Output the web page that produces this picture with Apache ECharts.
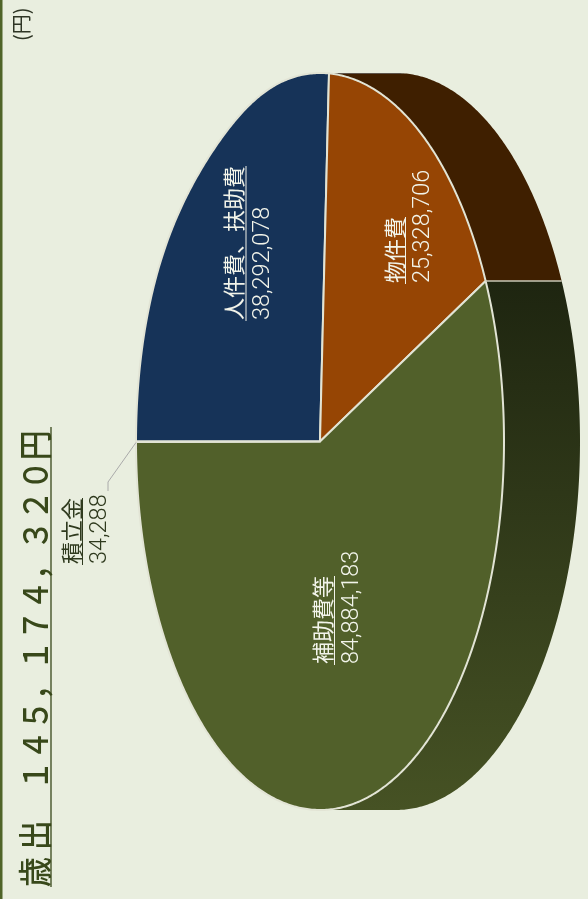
<!DOCTYPE html>
<html><head><meta charset="utf-8">
<style>html,body{margin:0;padding:0;background:#e9eedf}#c{width:588px;height:899px}</style>
<script src="https://cdn.jsdelivr.net/npm/echarts@6/dist/echarts.min.js"></script>
</head><body><div id="c"></div>
<script>
// Data, clockwise from the left end of the ellipse
const names = ['人件費、扶助費', '物件費', '補助費等', '積立金'];
const values = [38292078, 25328706, 84884183, 34288];
const valueLabels = ['38,292,078', '25,328,706', '84,884,183', '34,288'];
const titleText = '歳 出　１４５，１７４，３２０円';
const unitText = '(円)';

// Layout and style
const cx = 320, cy = 441.5, rx = 184, ry = 368.5, depth = 76, startDeg = 270;
const topColors = ['#163358', '#964504', '#51602a', '#51602a'];
const sideColors = ['#14294a', '#3f1f00', null, '#3a4520'];
const labelPos = [
  {name: 234, under: 246, value: 263, y: 320},
  {name: 395, under: 405.5, value: 422.5, y: 283},
  {name: 323, under: 334.5, value: 351.5, y: 664},
  {name: 72, under: 82.5, value: 99.5, y: 564}
];
const labelColors = ['#f2f4ea', '#f2f4ea', '#f2f4ea', '#2f3a1e'];
const CJK = '"Noto Sans CJK JP"';
const NUM = 'Roboto';

const total = values.reduce((a, b) => a + b, 0);
const spans = []; let acc = startDeg;
values.forEach(v => { const s = v / total * 360; spans.push([acc, acc + s]); acc += s; });
const pt = (deg, off) => {
  const t = deg * Math.PI / 180;
  const d = ((deg % 360) + 360) % 360;
  // the drawn rim is slightly flatter on the upper left
  const nudge = d > 270 ? 6 * Math.exp(-Math.pow((d - 325) / 20, 2)) : 0;
  return [cx + rx * Math.sin(t) + (off || 0) + nudge, cy - ry * Math.cos(t)];
};
const arc = (a, b, off) => {
  const n = Math.max(2, Math.ceil(Math.abs(b - a) * 2)), out = [];
  for (let i = 0; i <= n; i++) out.push(pt(a + (b - a) * i / n, off));
  return out;
};
const sideGrad = new echarts.graphic.LinearGradient(0, 281, 0, 810, [
  {offset: 0, color: '#1e2510'}, {offset: 1, color: '#465224'}], true);
sideGrad.global = true;

function renderSide(params, api) {
  const i = api.value(1), s = spans[i];
  // visible wall: right half of the ellipse only (0..180 deg)
  const a = s[0] % 360, b = a + (s[1] - s[0]);
  let aa = a, bb = Math.min(b, 180);
  if (a >= 180) {
    if (b <= 360) return null;
    aa = 0; bb = Math.min(b - 360, 180);
  }
  if (bb <= aa) return null;
  const pts = arc(aa, bb, 0).concat(arc(bb, aa, depth));
  return {type: 'polygon', shape: {points: pts},
    style: {fill: sideColors[i] || sideGrad, stroke: null}};
}
function renderTop(params, api) {
  const i = api.value(1), s = spans[i];
  const pts = [[cx, cy]].concat(arc(s[0], s[1], 0));
  return {type: 'polygon', shape: {points: pts},
    style: {fill: topColors[i], stroke: '#e2e4d5', lineWidth: 2, lineJoin: 'round'}};
}
function renderLabel(params, api) {
  const i = api.value(1), p = labelPos[i], fs = 22, c = labelColors[i];
  const len = names[i].length * fs + 1;
  const kids = [
    {type: 'text', x: p.name, y: p.y, rotation: Math.PI / 2,
     style: {text: names[i], font: fs + 'px ' + CJK, fill: c, align: 'left', verticalAlign: 'middle'}},
    {type: 'line', shape: {x1: p.under, y1: p.y + 1, x2: p.under, y2: p.y + 1 - len},
     style: {stroke: c, lineWidth: 1}},
    {type: 'text', x: p.value, y: p.y, rotation: Math.PI / 2, scaleY: 1.05,
     style: {text: valueLabels[i], font: '300 23.5px ' + NUM, fill: c, align: 'left', verticalAlign: 'middle'}}
  ];
  return {type: 'group', children: kids};
}
const rows = values.map((v, i) => [v, i, names[i]]);
const rim = pt(startDeg);
const option = {
  animation: false,
  backgroundColor: '#e9eedf',
  graphic: [
    {type: 'rect', shape: {x: 0, y: 0, width: 2.5, height: 899}, style: {fill: '#4f6428'}},
    {type: 'text', x: 35, y: 887, rotation: Math.PI / 2, scaleY: 1.12,
     style: {text: titleText, font: '500 30px ' + CJK, fill: '#38481a', align: 'left', verticalAlign: 'middle'}},
    {type: 'line', shape: {x1: 51, y1: 887, x2: 51, y2: 427}, style: {stroke: '#38481a', lineWidth: 1.3}},
    {type: 'text', x: 21, y: 41, rotation: Math.PI / 2,
     style: {text: unitText, font: '20px ' + CJK, fill: '#2e3524', align: 'left', verticalAlign: 'middle'}},
    {type: 'polyline', z: 10, shape: {points: [[rim[0], rim[1] + 1], [108, 482], [108, 491]]},
     style: {stroke: '#aaaaaa', lineWidth: 1, fill: null}},
    {type: 'line', z: 10, shape: {x1: pt(spans[1][1])[0], y1: pt(spans[1][1])[1], x2: pt(spans[1][1], depth)[0], y2: pt(spans[1][1])[1]},
     style: {stroke: '#c9c7b4', lineWidth: 1.6}}
  ],
  series: [
    {type: 'custom', coordinateSystem: 'none', z: 1, data: rows, renderItem: renderSide, silent: true},
    {type: 'custom', coordinateSystem: 'none', z: 2, data: rows, renderItem: renderTop, silent: true},
    {type: 'custom', coordinateSystem: 'none', z: 3, data: rows, renderItem: renderLabel, silent: true}
  ]
};
const chart = echarts.init(document.getElementById('c'), null, {renderer: 'canvas'});
chart.setOption(option);
</script></body></html>
